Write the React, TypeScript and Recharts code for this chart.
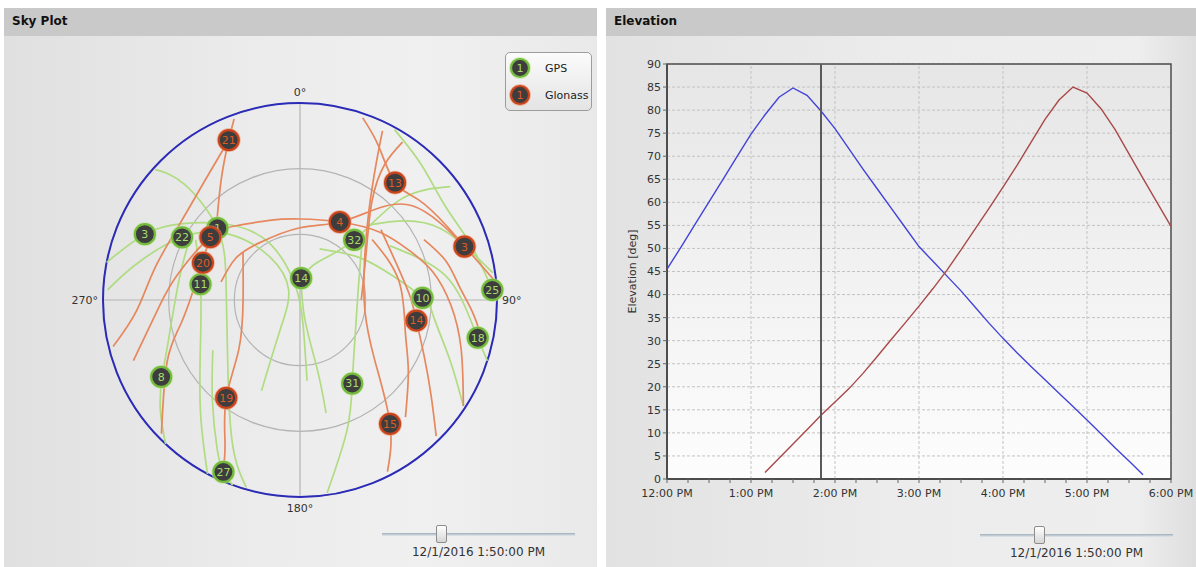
import React from 'react'
import {
  ScatterChart, Scatter, XAxis, YAxis,
  RadarChart, PolarGrid, PolarAngleAxis, PolarRadiusAxis,
  LineChart, Line, CartesianGrid, ReferenceLine, ReferenceArea,
} from 'recharts'

const FONT = '"DejaVu Sans", Verdana, sans-serif'
const SKY_R = 197

// satellites at the cursor time: [prn, azimuth deg, elevation deg]
const gpsSats = [
  [3, 293, 13], [22, 298, 29], [1, 311, 40], [11, 279, 44], [14, 3, 80],
  [32, 42, 53], [10, 89, 34], [25, 87, 2], [18, 102, 7], [8, 241, 17.5],
  [31, 148, 45], [27, 204, 4],
]
const glonassSats = [
  [21, 336, 10], [13, 39, 21], [4, 27, 50], [5, 305, 40], [20, 291, 42.5],
  [3, 72, 11], [14, 100, 36], [19, 217, 34], [15, 144, 20],
]

// passes over the day, [azimuth, elevation] pairs
const gpsTracks = [
  [[312, 1], [315, 15], [311, 40], [285, 55], [236, 50], [206, 19], [196, 1]],
  [[281, 0], [293, 13], [303, 26], [317, 43], [332, 61], [342, 83], [173, 78], [175, 53]],
  [[273, 2], [282, 13], [298, 29], [313, 46], [325, 66], [312, 83], [214, 74], [203, 45]],
  [[300, 35], [279, 44], [248, 41], [222, 22], [208, 0]],
  [[301, 32], [280, 34], [251, 26], [241, 18], [232, 9], [223, 0]],
  [[3, 80], [25, 71], [42, 53], [45, 25], [53, 4]],
  [[3, 80], [166, 81], [166, 57], [167, 37]],
  [[48, 52], [80, 63], [126, 59], [148, 45], [160, 27], [172, 1]],
  [[21, 65], [51, 58], [71, 49], [89, 34], [98, 28], [112, 16], [123, 1]],
  [[29, 1], [42, 7], [57, 11], [72, 8], [87, 2]],
  [[59, 42], [71, 32], [80, 23], [90, 16], [102, 7], [108, 0]],
  [[42, 44], [53, 30], [63, 18], [74, 9], [82, 1]],
  [[240, 44], [221, 29], [209, 12], [204, 4], [200, 0]],
]
const glonassTracks = [
  [[340, 2], [336, 10], [327, 24], [310, 40]],
  [[336, 10], [322, 20], [302, 25], [282, 22], [266, 15], [256, 2]],
  [[250, 9], [268, 26], [282, 33], [305, 40], [321, 46], [339, 51], [0, 53], [27, 50],
    [50, 42], [66, 35], [78, 28], [92, 21], [107, 13], [123, 1]],
  [[283, 53], [303, 55], [325, 58], [0, 57], [27, 50], [41, 34], [50, 23], [61, 17], [72, 11], [84, 1]],
  [[301, 41], [291, 42], [275, 41], [258, 34], [245, 23], [226, 2]],
  [[310, 56], [270, 64], [231, 54], [217, 34], [208, 17], [205, 8]],
  [[19, 2], [27, 11], [39, 21], [50, 19], [63, 15], [72, 11]],
  [[26, 4], [29, 18], [38, 39], [60, 56], [99, 60], [129, 46], [144, 20], [153, 2]],
  [[33, 4], [32, 17], [36, 34], [53, 52], [90, 62]],
  [[49, 41], [67, 43], [87, 40], [100, 36], [114, 28], [126, 16], [135, 2]],
  [[64, 27], [75, 21], [85, 17], [94, 11], [102, 5]],
  [[50, 47], [79, 44], [106, 40], [123, 31], [138, 18]],
]

const compass = ['0°', '90°', '180°', '270°']
const compassAngles = [0, 90, 180, 270]
const elevationRings = [60, 30, 0]

// elevation chart, minutes after 12:00 PM
const minutes = [
  0, 10, 20, 30, 40, 50, 60, 70, 80, 90, 100, 110, 120, 130, 140, 150, 160, 170, 180,
  190, 200, 210, 220, 230, 240, 250, 260, 270, 280, 290, 300, 310, 320, 330, 340, 350, 360,
]
const gpsElevation = [
  45.5, 50.3, 55.2, 60.1, 65.0, 69.9, 74.8, 79.0, 82.8, 84.8, 83.2, 79.8, 76.0, 71.6, 67.2,
  63.0, 58.8, 54.6, 50.4, 47.2, 44.0, 40.8, 37.3, 33.8, 30.5, 27.4, 24.4, 21.5, 18.6, 15.7,
  12.8, 9.8, 6.8, 3.9, 0.9, null, null,
]
const glonassElevation = [
  null, null, null, null, null, null, null, 1.4, 4.5, 7.6, 10.7, 13.8, 16.7, 19.6, 22.9,
  26.5, 30.2, 33.8, 37.5, 41.3, 45.3, 49.7, 54.2, 58.7, 63.3, 68.0, 73.0, 78.0, 82.2, 85.0,
  83.7, 80.3, 75.8, 70.5, 65.2, 60.0, 54.8,
]
const hourLabels = ['12:00 PM', '1:00 PM', '2:00 PM', '3:00 PM', '4:00 PM', '5:00 PM', '6:00 PM']
const cursorMinute = 110
const cursorLabel = '12/1/2016 1:50:00 PM'

const legendItems = [
  { name: 'GPS', ring: '#74bb3d', glow: '#b9e68f', text: '#a6dc6c' },
  { name: 'Glonass', ring: '#c9441c', glow: '#ec976f', text: '#dd5a28' },
]
const [gpsStyle, glonassStyle] = legendItems

// azimuth/elevation -> flat sky coordinates (zenith in the middle, north up)
const toPlane = (az: number, el: number) => {
  const r = 90 - el
  const a = (az * Math.PI) / 180
  return { x: r * Math.sin(a), y: r * Math.cos(a) }
}

const SatMarker = (props: any) => {
  const { cx, cy, label, look, r = 10 } = props
  return (
    <g>
      <circle cx={cx} cy={cy} r={r + 2} fill={look.glow} opacity={0.55} />
      <circle cx={cx} cy={cy} r={r} fill="#3d3d3d" stroke={look.ring} strokeWidth={2.2} />
      <text x={cx} y={cy} dy="0.36em" textAnchor="middle" fontSize={11} fontFamily={FONT} fill={look.text}>
        {label}
      </text>
    </g>
  )
}

const CompassTick = (props: any) => {
  const { x, y, payload, textAnchor } = props
  const dx = textAnchor === 'start' ? -6 : textAnchor === 'end' ? 6 : 0
  return (
    <text x={x + dx} y={y} textAnchor={textAnchor} dominantBaseline="central" fontSize={11} fontFamily={FONT} fill="#333">
      {payload.value}
    </text>
  )
}

const SkyPlot = () => {
  const gpsPoints = gpsSats.map(([prn, az, el]) => ({ prn, ...toPlane(az, el) }))
  const glonassPoints = glonassSats.map(([prn, az, el]) => ({ prn, ...toPlane(az, el) }))
  const ringRadii = elevationRings.map((el) => ((90 - el) / 90) * SKY_R)
  return (
    <>
      <div style={{ position: 'absolute', left: 40, top: 70 }}>
        <RadarChart width={520} height={460} cx={260} cy={230} outerRadius={SKY_R}
          data={compass.map((label) => ({ label, v: 0 }))}>
          <PolarGrid gridType="circle" polarAngles={compassAngles} polarRadius={ringRadii}
            stroke="#b4b4b4" strokeWidth={1.2} />
          <PolarRadiusAxis type="number" domain={[0, 90]} tickCount={4} tick={false} axisLine={false} />
          <PolarAngleAxis dataKey="label" axisLineType="circle" axisLine={{ stroke: '#2b2bb8', strokeWidth: 2 }}
            tickLine={false} tickSize={11} tick={<CompassTick />} />
        </RadarChart>
      </div>
      <div style={{ position: 'absolute', left: 83, top: 83 }}>
        <ScatterChart width={434} height={434} margin={{ top: 20, right: 20, bottom: 20, left: 20 }}>
          <XAxis type="number" dataKey="x" domain={[-90, 90]} hide />
          <YAxis type="number" dataKey="y" domain={[-90, 90]} hide />
          {gpsTracks.map((t, i) => (
            <Scatter key={`gt${i}`} data={t.map(([az, el]) => toPlane(az, el))}
              line={{ stroke: '#b0dc82', strokeWidth: 1.7 }} lineJointType="natural"
              shape={() => <g />} isAnimationActive={false} />
          ))}
          {glonassTracks.map((t, i) => (
            <Scatter key={`rt${i}`} data={t.map(([az, el]) => toPlane(az, el))}
              line={{ stroke: '#e6875e', strokeWidth: 1.7 }} lineJointType="natural"
              shape={() => <g />} isAnimationActive={false} />
          ))}
          <Scatter data={gpsPoints} isAnimationActive={false}
            shape={(p: any) => <SatMarker cx={p.cx} cy={p.cy} label={p.payload.prn} look={gpsStyle} />} />
          <Scatter data={glonassPoints} isAnimationActive={false}
            shape={(p: any) => <SatMarker cx={p.cx} cy={p.cy} label={p.payload.prn} look={glonassStyle} />} />
        </ScatterChart>
      </div>
    </>
  )
}

const SkyLegend = () => (
  <div style={{
    position: 'absolute', left: 505, top: 52, width: 87, height: 59, boxSizing: 'border-box',
    border: '1px solid #9c9c9c', borderRadius: 5, background: 'linear-gradient(#fbfbfb, #e4e4e4)',
  }}>
    {legendItems.map((item, i) => (
      <div key={item.name} style={{ position: 'absolute', left: 2, top: 3 + i * 27, height: 24, display: 'flex', alignItems: 'center' }}>
        <svg width={26} height={24}>
          <SatMarker cx={12} cy={12} r={9} label={1} look={item} />
        </svg>
        <span style={{ marginLeft: 11, fontSize: 11, color: '#222' }}>{item.name}</span>
      </div>
    ))}
  </div>
)

const ElevationChart = () => {
  const rows = minutes.map((m, i) => ({ m, gps: gpsElevation[i], glonass: glonassElevation[i] }))
  const hourTicks = hourLabels.map((_, i) => i * 60)
  const quarterTicks = Array.from({ length: 25 }, (_, i) => i * 15)
  const elevTicks = Array.from({ length: 19 }, (_, i) => i * 5)
  return (
    <div style={{ position: 'absolute', left: 606, top: 36 }}>
      <LineChart width={590} height={500} data={rows} margin={{ top: 28, right: 25, bottom: 27, left: 21 }}>
        <defs>
          <linearGradient id="elevBg" x1="0" y1="0" x2="0" y2="1">
            <stop offset="0%" stopColor="#e6e6e6" />
            <stop offset="100%" stopColor="#fdfdfd" />
          </linearGradient>
        </defs>
        <CartesianGrid vertical={false} stroke="#c3c3c3" strokeDasharray="3 2" fill="url(#elevBg)" fillOpacity={1} />
        {hourTicks.slice(1, -1).map((h) => (
          <ReferenceLine key={h} x={h} stroke="#c3c3c3" strokeDasharray="3 2" />
        ))}
        <ReferenceArea x1={0} x2={360} y1={0} y2={90} fill="none" stroke="#4d4d4d" strokeWidth={1.5} />
        <XAxis type="number" dataKey="m" domain={[0, 360]} ticks={quarterTicks} interval={0}
          tickFormatter={(v: number) => (v % 60 === 0 ? hourLabels[v / 60] : '')}
          tick={{ fontSize: 11, fill: '#333', fontFamily: FONT }} tickSize={4} tickMargin={6} height={30}
          axisLine={{ stroke: '#4d4d4d', strokeWidth: 2 }} tickLine={{ stroke: '#666' }} />
        <YAxis type="number" domain={[0, 90]} ticks={elevTicks} interval={0} width={40}
          tick={{ fontSize: 11, fill: '#333', fontFamily: FONT }} tickSize={4} tickMargin={2}
          axisLine={{ stroke: '#4d4d4d', strokeWidth: 2 }} tickLine={{ stroke: '#666' }}
          label={{ value: 'Elevation [deg]', angle: -90, position: 'insideLeft', offset: 5,
            style: { textAnchor: 'middle', fontSize: 11, fill: '#333', fontFamily: FONT } }} />
        <Line type="linear" dataKey="gps" stroke="#4343d8" strokeWidth={1.4} dot={false} isAnimationActive={false} />
        <Line type="linear" dataKey="glonass" stroke="#a94848" strokeWidth={1.4} dot={false} isAnimationActive={false} />
        <ReferenceLine x={cursorMinute} stroke="#5a5a5a" strokeWidth={2} />
      </LineChart>
    </div>
  )
}

const TimeSlider = ({ left, top, width }: { left: number; top: number; width: number }) => {
  const thumbX = (cursorMinute / 360) * width
  return (
    <div style={{ position: 'absolute', left, top, width, height: 40 }}>
      <div style={{ position: 'absolute', left: 0, right: 0, top: 8, height: 3, background: 'linear-gradient(#9fadba, #e3e8ec)' }} />
      <div style={{
        position: 'absolute', left: thumbX - 5, top: 0, width: 11, height: 18, boxSizing: 'border-box',
        border: '1px solid #8c8c8c', borderRadius: 2, background: 'linear-gradient(#ffffff, #d6d6d6)',
      }} />
      <div style={{ position: 'absolute', left: -20, right: -20, top: 20, textAlign: 'center', fontSize: 12, color: '#333', lineHeight: '14px' }}>
        {cursorLabel}
      </div>
    </div>
  )
}

const header: React.CSSProperties = {
  height: 28, lineHeight: '26px', paddingLeft: 8, background: '#c9c9c9',
  fontWeight: 'bold', fontSize: 12, color: '#111',
}

export default function App() {
  return (
    <div style={{ position: 'relative', width: 1196, height: 567, background: '#fff', fontFamily: FONT, overflow: 'hidden' }}>
      <style>{'body { margin: 0; }'}</style>
      <div style={{
        position: 'absolute', left: 4, top: 8, width: 593, height: 559,
        background: 'linear-gradient(90deg, #e0e0e0 0%, #ebebeb 40%, #f0f0f0 70%, #e9e9e9 100%)',
      }}>
        <div style={header}>Sky Plot</div>
      </div>
      <div style={{
        position: 'absolute', left: 606, top: 8, width: 590, height: 559,
        background: 'linear-gradient(90deg, #e2e2e2 0%, #ececec 50%, #eeeeee 90%, #dedede 100%)',
      }}>
        <div style={header}>Elevation</div>
      </div>
      <SkyPlot />
      <SkyLegend />
      <ElevationChart />
      <TimeSlider left={382} top={525} width={193} />
      <TimeSlider left={980} top={526} width={193} />
    </div>
  )
}
